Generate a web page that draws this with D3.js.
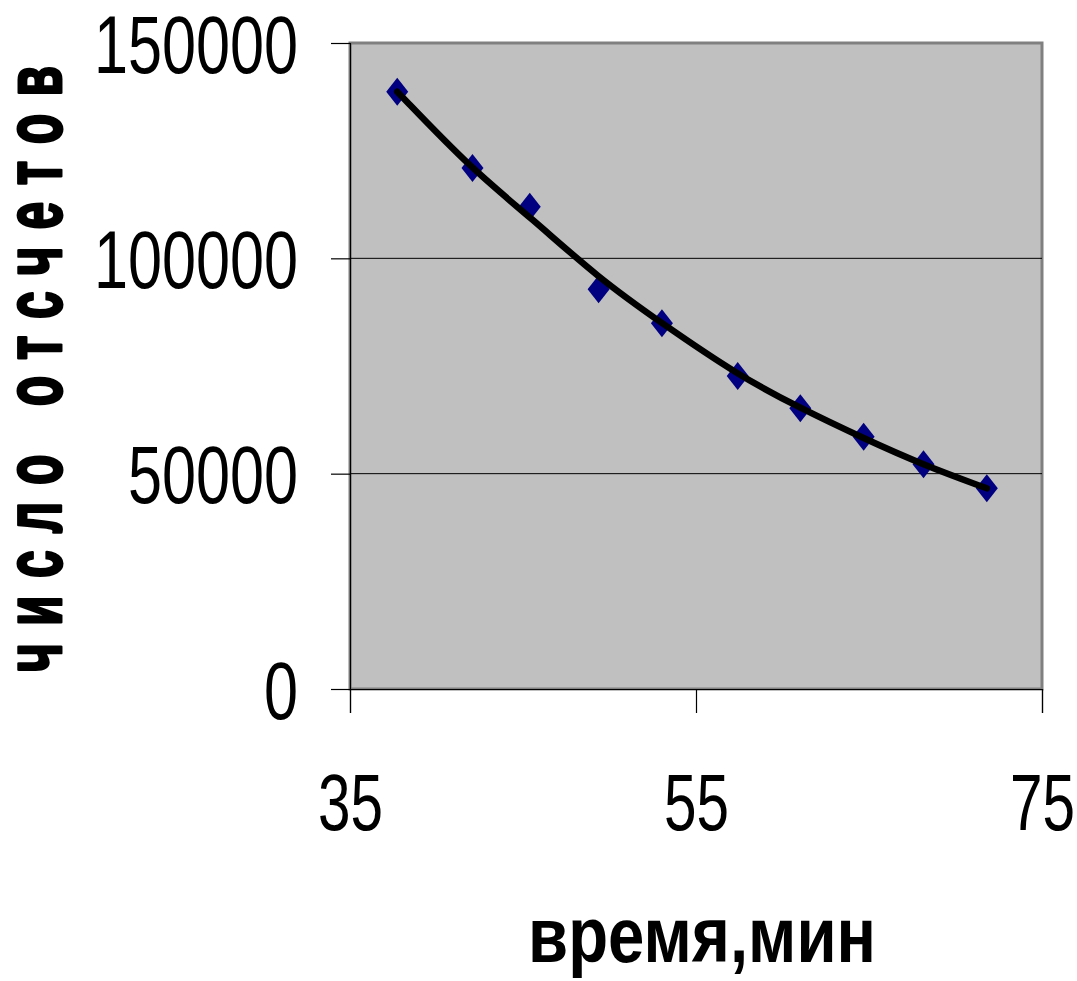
<!DOCTYPE html>
<html>
<head>
<meta charset="utf-8">
<script src="https://cdn.jsdelivr.net/npm/d3@7"></script>
<style>
  html, body { margin: 0; padding: 0; background: #fff; }
  svg { display: block; }
</style>
</head>
<body>
<svg id="chart" width="1077" height="981"></svg>
<script>
// ---- data ----
const timeMin = [37.73, 42.08, 45.39, 49.37, 53.03, 57.41, 61.03, 64.69, 68.15, 71.81];
const counts  = [138700, 121000, 112000, 92800, 84900, 72700, 65200, 58600, 52200, 46600];
// trend line at the same times
const trendTime   = [37.73, 42.08, 45.39, 49.37, 53.03, 57.41, 61.03, 64.69, 68.15, 71.81];
const trendCounts = [138700, 120500, 109700, 95400, 84900, 72900, 65200, 58200, 52000, 46600];
const xTicks = [35, 55, 75];
const yTicks = [0, 50000, 100000, 150000];
const xTitle = "время,мин";
const yTitle = "число отсчетов";

// ---- layout ----
const svg = d3.select("#chart");
const pLeft = 350, pRight = 1042, pTop = 43, pBottom = 689;
const FONT = "'Liberation Sans', Arial, sans-serif";

const x = d3.scaleLinear().domain([35, 75]).range([pLeft, pRight]);
const y = d3.scaleLinear().domain([0, 150000]).range([pBottom, pTop]);

// plot area
svg.append("rect")
  .attr("x", pLeft).attr("y", pTop)
  .attr("width", pRight - pLeft).attr("height", pBottom - pTop)
  .attr("fill", "#c0c0c0")
  .attr("stroke", "#808080").attr("stroke-width", 3);

// gridlines
svg.append("g").selectAll("line")
  .data(yTicks.filter(d => d > 0 && d < 150000))
  .join("line")
  .attr("x1", pLeft).attr("x2", pRight)
  .attr("y1", d => y(d)).attr("y2", d => y(d))
  .attr("stroke", "#000").attr("stroke-width", 1);

// y axis
const yAxis = svg.append("g")
  .attr("transform", `translate(${pLeft},0)`)
  .call(d3.axisLeft(y).tickValues(yTicks).tickSize(19).tickPadding(33).tickFormat(d3.format("d")));
yAxis.select(".domain").attr("stroke", "#000").attr("stroke-width", 1.2);
yAxis.selectAll(".tick line").attr("stroke", "#000").attr("stroke-width", 1.2);
yAxis.selectAll(".tick text")
  .attr("font-family", FONT)
  .attr("font-size", 81).attr("fill", "#000")
  .attr("dy", "0.36em")
  .attr("textLength", function () { return this.textContent.length * 34; })
  .attr("lengthAdjust", "spacingAndGlyphs");

// x axis
const xAxis = svg.append("g")
  .attr("transform", `translate(0,${pBottom})`)
  .call(d3.axisBottom(x).tickValues(xTicks).tickSize(24).tickPadding(0).tickFormat(d3.format("d")));
xAxis.select(".domain").attr("stroke", "#000").attr("stroke-width", 1.2);
xAxis.selectAll(".tick line").attr("stroke", "#000").attr("stroke-width", 1.2);
xAxis.selectAll(".tick text")
  .attr("font-family", FONT)
  .attr("font-size", 80).attr("fill", "#000")
  .attr("y", 141).attr("dy", 0)
  .attr("textLength", function () { return this.textContent.length * 32.5; })
  .attr("lengthAdjust", "spacingAndGlyphs");

// markers
const pts = timeMin.map((t, i) => ({ t, c: counts[i] }));
svg.append("g").selectAll("path")
  .data(pts)
  .join("path")
  .attr("transform", d => `translate(${x(d.t)},${y(d.c)})`)
  .attr("d", "M0,-14L11,0L0,14L-11,0Z")
  .attr("fill", "#000080");

// trend line
const trend = trendTime.map((t, i) => ({ t, c: trendCounts[i] }));
svg.append("path")
  .datum(trend)
  .attr("d", d3.line().x(d => x(d.t)).y(d => y(d.c)).curve(d3.curveBasis))
  .attr("fill", "none")
  .attr("stroke", "#000")
  .attr("stroke-width", 6.5)
  .attr("stroke-linecap", "round")
  .attr("stroke-linejoin", "round");

// titles
svg.append("text")
  .attr("x", 702).attr("y", 962)
  .attr("text-anchor", "middle")
  .attr("font-family", FONT)
  .attr("font-weight", "bold")
  .attr("font-size", 78)
  .attr("textLength", 348)
  .attr("lengthAdjust", "spacingAndGlyphs")
  .text(xTitle);

const ySx = 0.63;
svg.append("text")
  .attr("transform", `translate(61,369) rotate(-90) scale(${ySx},1)`)
  .attr("text-anchor", "middle")
  .attr("font-family", FONT)
  .attr("font-weight", "bold")
  .attr("font-size", 79)
  .attr("stroke", "#000")
  .attr("stroke-width", 3)
  .attr("stroke-linejoin", "round")
  .attr("textLength", 606 / ySx)
  .attr("lengthAdjust", "spacing")
  .text(yTitle);
</script>
</body>
</html>
